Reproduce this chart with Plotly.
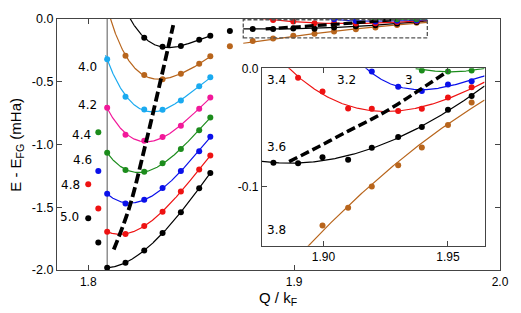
import numpy as np
import plotly.graph_objects as go
from numpy.polynomial import Polynomial

# ---------------- data ----------------
# main panel sample positions
Q_MAIN = [1.8092, 1.8181, 1.8272, 1.8361, 1.8450, 1.8539, 1.8593]

E_BLACK_TOP = [-0.150, -0.222, -0.215, -0.165, -0.134]          # Q_MAIN[2:]
E_BROWN_MAIN = [-0.292, -0.447, -0.481, -0.436, -0.357, -0.297]   # Q_MAIN[1:]
E_CYAN = [-0.320, -0.620, -0.721, -0.723, -0.649, -0.535, -0.465]
E_MAGENTA = [-0.708, -0.922, -0.971, -0.940, -0.850, -0.716, -0.625]
E_GREEN = [-1.066, -1.204, -1.217, -1.150, -1.036, -0.886, -0.785]
E_BLUE = [-1.393, -1.470, -1.440, -1.347, -1.212, -1.054, -0.938]
E_RED = [-1.695, -1.713, -1.649, -1.535, -1.374, -1.199, -1.088]
E_BLACK_BOT = [-1.982, -1.943, -1.845, -1.705, -1.540, -1.349, -1.227]

# curve end points where the drawn fits leave the frame
ANCHOR_BLACK_TOP = ([1.8204], [0.0])
ANCHOR_BROWN_MAIN = ([1.8108], [0.0])

# isolated points left of the reference line
ISO_Q = [1.8049, 1.8049, 1.8000, 1.8049, 1.8000, 1.8049]
ISO_E = [-0.902, -1.212, -1.316, -1.509, -1.587, -1.781]
ISO_C = ["green", "blue", "red", "red", "black", "black"]

# thick dashed line (main)
DASH_MAIN_Q = [1.8124, 1.8200, 1.8278, 1.8350, 1.8413]
DASH_MAIN_E = [-1.837, -1.500, -1.000, -0.500, -0.049]

# inset sample positions
Q_IN = [1.8688, 1.8799, 1.8898, 1.8996, 1.9099, 1.9194, 1.9300, 1.9395, 1.9500, 1.9595]
E_RED_34 = [-0.0079, -0.0197, -0.0340, -0.0342, -0.0362, -0.0342, -0.0247, -0.0161]   # Q_IN[2:]
E_BLACK_36 = [-0.095, -0.0798, -0.0803, -0.0753, -0.0773, -0.0671, -0.0581, -0.0496, -0.0350, -0.0235]
E_BLUE_32 = [-0.0027, -0.0156, -0.0192, -0.0137, -0.0110]   # Q_IN[5:]
E_GREEN_3 = [-0.0019, -0.0027, -0.0019]                      # Q_IN[7:]
E_BROWN_38 = [-0.217, -0.176, -0.156, -0.133, -0.118, -0.100, -0.082, -0.067, -0.048, -0.029]

ANCHOR_RED_34 = ([1.8862, 1.9647], [0.0, -0.0126])
ANCHOR_BLACK_36 = ([1.8753, 1.9647], [-0.0789, -0.0150])
ANCHOR_BLUE_32 = ([1.9165, 1.9647], [0.0, -0.0060])
ANCHOR_GREEN_3 = ([1.9382, 1.9647], [0.0, 0.0])

DASH_IN_Q = [1.8862, 1.8980, 1.9099, 1.9194, 1.9257, 1.9336, 1.9395, 1.9494]
DASH_IN_E = [-0.0789, -0.0663, -0.0531, -0.0430, -0.0356, -0.0252, -0.0170, -0.0033]

VLINE_Q = 1.8092

MAIN_LABELS = ["4.0", "4.2", "4.4", "4.6", "4.8", "5.0"]
INSET_LABELS = ["3.4", "3.2", "3", "3.6", "3.8"]

MAIN_X_TICKS = [1.8, 1.9, 2.0]
MAIN_X_TEXT = ["1.8", "1.9", "2.0"]
MAIN_Y_TICKS = [0.0, -0.5, -1.0, -1.5, -2.0]
MAIN_Y_TEXT = ["0.0", "-0.5", "-1.0", "-1.5", "-2.0"]
IN_X_TICKS = [1.90, 1.95]
IN_X_TEXT = ["1.90", "1.95"]
IN_Y_TICKS = [0.0, -0.1]
IN_Y_TEXT = ["0.0", "-0.1"]

MAIN_X_RANGE = [1.78483, 2.0]
MAIN_Y_RANGE = [-2.0, 0.0]
INSET_X_RANGE = [1.8753, 1.9647]
INSET_Y_RANGE = [-0.150, 0.0]

# ---------------- styles ----------------
C = dict(black="#000000", brown="#b8651c", cyan="#1aaaf0", magenta="#f2189a",
         green="#1c8c1c", blue="#0a10ea", red="#ee1212")
AXC = "#444444"
LW = 1.2
MS = 6
TICKFONT = "Liberation Sans, Arial, sans-serif"
LABFONT = "DejaVu Sans, sans-serif"


def fit(q, e, deg, q0, q1, aq=(), ae=()):
    qq_all = list(q) + list(aq)
    ee_all = list(e) + list(ae)
    p = Polynomial.fit(qq_all, ee_all, deg)
    qq = np.linspace(q0, q1, 300)
    return qq, p(qq)


fig = go.Figure()


def add_series(q, e, color, deg, q0, q1, anchor=((), ()), xa="x", ya="y"):
    lq, le = fit(q, e, deg, q0, q1, anchor[0], anchor[1])
    fig.add_trace(go.Scatter(x=lq, y=le, mode="lines", line=dict(color=color, width=LW),
                             xaxis=xa, yaxis=ya, showlegend=False, hoverinfo="skip"))
    fig.add_trace(go.Scatter(x=q, y=e, mode="markers", marker=dict(color=color, size=MS),
                             xaxis=xa, yaxis=ya, showlegend=False))


# main curves
q_end = Q_MAIN[-1] + 0.0004
q_start = Q_MAIN[0] - 0.0008
add_series(Q_MAIN[2:], E_BLACK_TOP, C["black"], 3, 1.8190, q_end, ANCHOR_BLACK_TOP)
add_series(Q_MAIN[1:], E_BROWN_MAIN, C["brown"], 4, 1.8100, q_end, ANCHOR_BROWN_MAIN)
add_series(Q_MAIN, E_CYAN, C["cyan"], 3, q_start, q_end)
add_series(Q_MAIN, E_MAGENTA, C["magenta"], 3, q_start, q_end)
add_series(Q_MAIN, E_GREEN, C["green"], 3, q_start, q_end)
add_series(Q_MAIN, E_BLUE, C["blue"], 3, q_start, q_end)
add_series(Q_MAIN, E_RED, C["red"], 3, q_start, q_end)
add_series(Q_MAIN, E_BLACK_BOT, C["black"], 3, Q_MAIN[0], q_end)

# isolated points
fig.add_trace(go.Scatter(x=ISO_Q, y=ISO_E, mode="markers",
                         marker=dict(color=[C[c] for c in ISO_C], size=MS),
                         showlegend=False))

# inset series, drawn on both panels
for xa, ya in (("x", "y"), ("x2", "y2")):
    add_series(Q_IN, E_BROWN_38, C["brown"], 2, INSET_X_RANGE[0], INSET_X_RANGE[1], xa=xa, ya=ya)
    lq, le = fit(Q_IN[1:], E_BLACK_36[1:], 3, INSET_X_RANGE[0], INSET_X_RANGE[1],
                 ANCHOR_BLACK_36[0], ANCHOR_BLACK_36[1])
    fig.add_trace(go.Scatter(x=lq, y=le, mode="lines", line=dict(color=C["black"], width=LW),
                             xaxis=xa, yaxis=ya, showlegend=False))
    fig.add_trace(go.Scatter(x=Q_IN, y=E_BLACK_36, mode="markers",
                             marker=dict(color=C["black"], size=MS),
                             xaxis=xa, yaxis=ya, showlegend=False))
    add_series(Q_IN[2:], E_RED_34, C["red"], 3, 1.8850, INSET_X_RANGE[1], ANCHOR_RED_34, xa, ya)
    add_series(Q_IN[5:], E_BLUE_32, C["blue"], 3, 1.9150, INSET_X_RANGE[1], ANCHOR_BLUE_32, xa, ya)
    add_series(Q_IN[7:], E_GREEN_3, C["green"], 2, 1.9370, INSET_X_RANGE[1], ANCHOR_GREEN_3, xa, ya)
    fig.add_trace(go.Scatter(x=DASH_IN_Q, y=DASH_IN_E, mode="lines",
                             line=dict(color="black", width=3.5 if xa == "x2" else 3.2,
                                       dash="9px,4px", shape="spline"),
                             xaxis=xa, yaxis=ya, showlegend=False))

# main thick dashed
fig.add_trace(go.Scatter(x=DASH_MAIN_Q, y=DASH_MAIN_E, mode="lines",
                         line=dict(color="black", width=3.8, dash="10px,4px", shape="spline"),
                         showlegend=False))

# shapes: reference line and zoom box
fig.add_shape(type="line", xref="x", yref="paper", x0=VLINE_Q, x1=VLINE_Q, y0=0, y1=1,
              line=dict(color="#666666", width=1.1), layer="below")
fig.add_shape(type="rect", xref="x", yref="y",
              x0=INSET_X_RANGE[0], x1=INSET_X_RANGE[1],
              y0=INSET_Y_RANGE[0], y1=INSET_Y_RANGE[1] - 0.006,
              line=dict(color="#555555", width=1.3, dash="4px,2px"))

# curve labels
MAIN_LABEL_Q = [1.7995, 1.7995, 1.7967, 1.7971, 1.7914, 1.7909]
MAIN_LABEL_E = [-0.380, -0.682, -0.922, -1.124, -1.322, -1.581]
for t, x, y in zip(MAIN_LABELS, MAIN_LABEL_Q, MAIN_LABEL_E):
    fig.add_annotation(x=x, y=y, xref="x", yref="y", text=t, showarrow=False,
                       xanchor="center", yanchor="middle",
                       font=dict(family=LABFONT, size=12, color="black"))
INSET_LABEL_Q = [1.8811, 1.9091, 1.9344, 1.8811, 1.8811]
INSET_LABEL_E = [-0.0101, -0.0101, -0.0101, -0.0669, -0.1368]
for t, x, y in zip(INSET_LABELS, INSET_LABEL_Q, INSET_LABEL_E):
    fig.add_annotation(x=x, y=y, xref="x2", yref="y2", text=t, showarrow=False,
                       xanchor="center", yanchor="middle",
                       font=dict(family=LABFONT, size=12, color="black"))

# axis titles
fig.add_annotation(x=-0.092, y=0.5, xref="paper", yref="paper", text="E - E<sub>FG</sub> (mHa)",
                   textangle=-90, showarrow=False, xanchor="center", yanchor="middle",
                   font=dict(family=TICKFONT, size=15, color="black"))
fig.add_annotation(x=0.499, y=-0.112, xref="paper", yref="paper", text="Q / k<sub>F</sub>",
                   showarrow=False, xanchor="center", yanchor="middle",
                   font=dict(family=TICKFONT, size=15, color="black"))

axis_common = dict(showgrid=False, zeroline=False, showline=True, linecolor=AXC, linewidth=1.3,
                   ticks="inside", ticklen=5, tickcolor=AXC, tickwidth=1)

fig.update_layout(
    width=521, height=313,
    margin=dict(l=57, r=13, t=12, b=43),
    paper_bgcolor="white", plot_bgcolor="white",
    showlegend=False,
    xaxis=dict(range=MAIN_X_RANGE, tickvals=MAIN_X_TICKS, ticktext=MAIN_X_TEXT,
               mirror="ticks", tickfont=dict(family=TICKFONT, size=12, color="black"),
               domain=[0, 1], **axis_common),
    yaxis=dict(range=MAIN_Y_RANGE, tickvals=MAIN_Y_TICKS, ticktext=MAIN_Y_TEXT,
               mirror="ticks", tickfont=dict(family=TICKFONT, size=12.5, color="black"),
               domain=[0, 1], **axis_common),
    xaxis2=dict(range=INSET_X_RANGE, tickvals=IN_X_TICKS, ticktext=IN_X_TEXT,
                mirror="ticks", anchor="y2", tickfont=dict(family=TICKFONT, size=12, color="black"),
                domain=[0.4627, 0.9652], **axis_common),
    yaxis2=dict(range=INSET_Y_RANGE, tickvals=IN_Y_TICKS, ticktext=IN_Y_TEXT,
                mirror=True, anchor="x2", tickfont=dict(family=TICKFONT, size=12, color="black"),
                domain=[0.0969, 0.8035], **axis_common),
)

fig.write_html("out.html",
               config={"displayModeBar": False},
               post_script="document.body.style.margin='0';document.body.style.overflow='hidden';")
